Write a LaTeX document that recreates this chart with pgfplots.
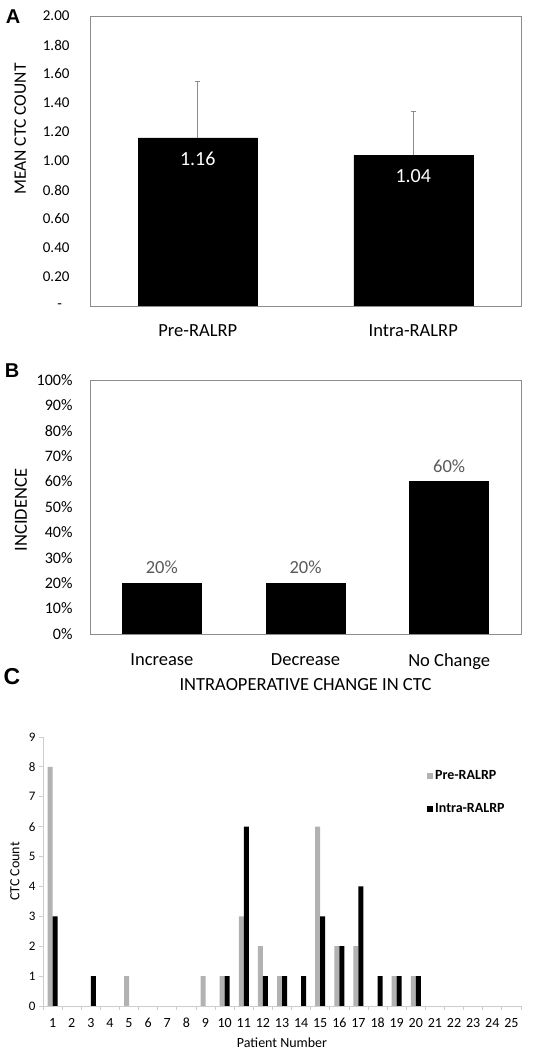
\documentclass[border=0pt]{standalone}
\usepackage{fontspec}
\setmainfont{Carlito}
\newfontfamily\panelfont{Liberation Sans}
\usepackage{pgfplots}
\pgfplotsset{compat=1.18}
\definecolor{framegray}{RGB}{140,140,140}
\definecolor{lightaxis}{RGB}{205,205,205}
\definecolor{pregray}{RGB}{178,178,178}
\definecolor{labgray}{RGB}{89,89,89}
\begin{document}
\begin{tikzpicture}
\path[use as bounding box] (0bp,0bp) rectangle (535bp,1050bp);
\node[font=\panelfont\bfseries\fontsize{20bp}{20bp}\selectfont] at (13bp,1033bp) {A};
\node[font=\panelfont\bfseries\fontsize{20bp}{20bp}\selectfont] at (12bp,679bp) {B};
\node[font=\panelfont\bfseries\fontsize{23bp}{23bp}\selectfont] at (12bp,373bp) {C};
% Panel A
\begin{axis}[
  at={(90bp,744bp)}, anchor=south west, scale only axis,
  width=431bp, height=290bp,
  /pgf/number format/assume math mode=true,
  ybar, bar width=119bp,
  xmin=-0.5, xmax=1.5, ymin=0, ymax=2,
  xtick={0,1}, xticklabels={Pre-RALRP,Intra-RALRP},
  ytick={0,0.2,0.4,0.6,0.8,1,1.2,1.4,1.6,1.8,2},
  yticklabels={-\hphantom{0},0.20,0.40,0.60,0.80,1.00,1.20,1.40,1.60,1.80,2.00},
  major tick length=0pt,
  axis line style={draw=framegray, line width=0.9bp},
  yticklabel style={font=\fontsize{15bp}{17bp}\selectfont, xshift=-17bp},
  xticklabel style={font=\fontsize{18.5bp}{20bp}\selectfont, yshift=-15bp},
  ylabel={MEAN CTC COUNT},
  ylabel style={font=\fontsize{17.5bp}{20bp}\selectfont, at={(axis description cs:-0.162,0.61)}, anchor=center},
  nodes near coords={\pgfmathprintnumber[fixed,fixed zerofill,precision=2]{\pgfplotspointmeta}},
  every node near coord/.append style={anchor=center, yshift=-21bp, text=white, font=\fontsize{20bp}{22bp}\selectfont},
]
\addplot[fill=black, draw=black,
  error bars/.cd, y dir=plus, y explicit,
  error bar style={framegray, line width=0.8bp},
  error mark options={rotate=90, framegray, mark size=2.5bp, line width=0.8bp}]
  coordinates {(0,1.16) +- (0,0.39) (1,1.04) +- (0,0.30)};
\end{axis}
% Panel B
\begin{axis}[
  at={(90bp,416bp)}, anchor=south west, scale only axis,
  width=431bp, height=254bp,
  /pgf/number format/assume math mode=true,
  ybar, bar width=79bp,
  xmin=-0.5, xmax=2.5, ymin=0, ymax=100,
  xtick={0,1,2}, xticklabels={Increase,Decrease,No Change},
  ytick={0,10,20,30,40,50,60,70,80,90,100},
  yticklabel={\pgfmathprintnumber{\tick}\%},
  major tick length=0pt,
  axis line style={draw=framegray, line width=0.9bp},
  yticklabel style={font=\fontsize{16bp}{18bp}\selectfont, xshift=-14bp},
  xticklabel style={font=\fontsize{18.5bp}{20bp}\selectfont, yshift=-16bp},
  ylabel={INCIDENCE},
  ylabel style={font=\fontsize{18.5bp}{20bp}\selectfont, at={(axis description cs:-0.160,0.488)}, anchor=center},
  xlabel={INTRAOPERATIVE CHANGE IN CTC},
  xlabel style={font=\fontsize{18.5bp}{20bp}\selectfont, at={(axis description cs:0.5,-0.198)}, anchor=center},
  nodes near coords={\pgfmathprintnumber{\pgfplotspointmeta}\%},
  every node near coord/.append style={anchor=center, yshift=15.5bp, text=labgray, font=\fontsize{18.5bp}{20bp}\selectfont},
]
\addplot[fill=black, draw=black] coordinates {(0,20) (1,20) (2,60)};
\end{axis}
% Panel C
\begin{axis}[
  at={(43bp,44bp)}, anchor=south west, scale only axis,
  width=478bp, height=269bp,
  /pgf/number format/assume math mode=true,
  ybar=0pt, bar width=5bp,
  xmin=0.5, xmax=25.5, ymin=0, ymax=9,
  xtick={1,...,25}, minor xtick={0.5,1.5,...,25.5},
  ytick={0,1,2,3,4,5,6,7,8,9},
  axis x line=bottom, axis y line=left,
  axis line style={-, draw=lightaxis, line width=1bp},
  tick align=outside, major tick length=4bp, minor tick length=4bp,
  tick style={draw=lightaxis, line width=0.8bp},
  major x tick style={draw=none},
  xticklabel style={font=\fontsize{14bp}{15bp}\selectfont, yshift=-4bp, text height=9.5bp, text depth=1bp},
  yticklabel style={font=\fontsize{13bp}{15bp}\selectfont},
  xlabel={Patient Number},
  xlabel style={font=\fontsize{14bp}{16bp}\selectfont, at={(axis description cs:0.5,-0.1375)}, anchor=center},
  ylabel={CTC Count},
  ylabel style={font=\fontsize{14bp}{16bp}\selectfont, at={(axis description cs:-0.0586,0.5)}, anchor=center},
  legend style={draw=none, fill=none, at={(0.797,0.89)}, anchor=north west,
    font=\bfseries\fontsize{14bp}{16bp}\selectfont, row sep=18bp},
  legend cell align=left,
  legend image code/.code={\fill[#1] (0bp,-3bp) rectangle (6bp,3bp);},
]
\addplot[fill=pregray, draw=none] coordinates {(1,8) (5,1) (9,1) (10,1) (11,3) (12,2) (13,1) (15,6) (16,2) (17,2) (19,1) (20,1)};
\addplot[fill=black, draw=none] coordinates {(1,3) (3,1) (10,1) (11,6) (12,1) (13,1) (14,1) (15,3) (16,2) (17,4) (18,1) (19,1) (20,1)};
\legend{Pre-RALRP,Intra-RALRP}
\end{axis}
\end{tikzpicture}
\end{document}
